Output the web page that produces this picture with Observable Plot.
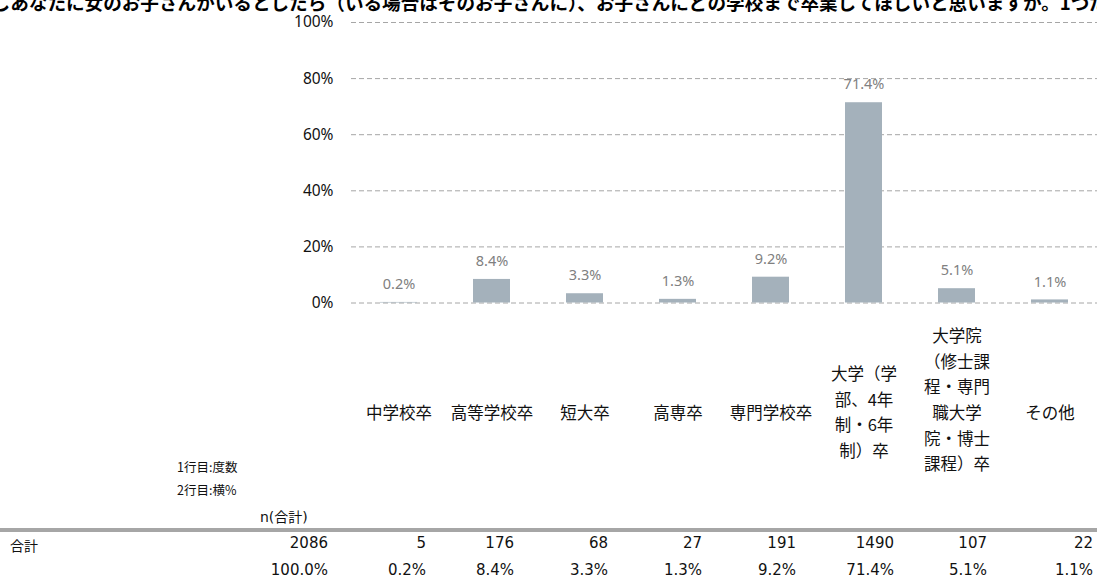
<!DOCTYPE html>
<html>
<head>
<meta charset="utf-8">
<script src="https://cdn.jsdelivr.net/npm/d3@7"></script>
<script src="https://cdn.jsdelivr.net/npm/@observablehq/plot@0.6"></script>
<style>
  html, body { margin: 0; padding: 0; background: #fff; }
  #wrap { position: relative; width: 1097px; height: 581px; overflow: hidden; font-family: "DejaVu Sans", "Noto Sans CJK JP", sans-serif; color: #111; }
  #title { position: absolute; left: -27px; top: -8px; white-space: nowrap; font-family: "Noto Sans CJK JP", sans-serif; font-weight: bold; font-size: 18.6px; line-height: 19px; color: #000; }
  #chart { position: absolute; left: 0; top: 0; }
  .abs { position: absolute; white-space: nowrap; }
  .note { font-family: "Noto Sans CJK JP", sans-serif; font-size: 12.5px; }
  .hdr { font-family: "DejaVu Sans", "Noto Sans CJK JP", sans-serif; font-size: 14px; }
  .cell { font-family: "DejaVu Sans", "Noto Sans CJK JP", sans-serif; font-size: 15px; text-align: right; }
  #rule { position: absolute; left: 0; width: 1097px; height: 4px; background: #a6a6a6; }
</style>
</head>
<body>
<div id="wrap">
  <div id="chart"></div>
  <div id="title"></div>
</div>
<script>
const titleText = "もしあなたに女のお子さんがいるとしたら（いる場合はそのお子さんに）、お子さんにどの学校まで卒業してほしいと思いますか。1つだけお選びください。";
const categories = ["中学校卒", "高等学校卒", "短大卒", "高専卒", "専門学校卒", "大学（学部、4年制・6年制）卒", "大学院（修士課程・専門職大学院・博士課程）卒", "その他"];
const tickLabels = ["中学校卒", "高等学校卒", "短大卒", "高専卒", "専門学校卒", "大学（学\n部、4年\n制・6年\n制）卒", "大学院\n（修士課\n程・専門\n職大学\n院・博士\n課程）卒", "その他"];
const counts = [5, 176, 68, 27, 191, 1490, 107, 22];
const shares = [0.002, 0.084, 0.033, 0.013, 0.092, 0.714, 0.051, 0.011];
const totalN = 2086;
const totalShare = 1.0;
const yTicks = [0, 0.2, 0.4, 0.6, 0.8, 1.0];
const notes = ["1行目:度数", "2行目:横%"];
const nHeader = "n(合計)";
const rowLabel = "合計";

const data = categories.map((c, i) => ({cat: c, share: shares[i], count: counts[i]}));
const labelOf = new Map(categories.map((c, i) => [c, tickLabels[i]]));
const pct1 = d3.format(".1%");
const longCat = categories[6];
const otherCats = categories.filter(c => c !== longCat);

const H = 500;
const chart = Plot.plot({
  width: 1097,
  height: H,
  marginLeft: 351,
  marginRight: 0,
  marginTop: 22,
  marginBottom: H - 302.5,
  style: {fontFamily: "'Noto Sans CJK JP', sans-serif", background: "transparent", color: "#111"},
  x: {domain: categories, paddingInner: 0.6, paddingOuter: 0.3, axis: null, label: null},
  y: {domain: [0, 1], axis: null, label: null},
  marks: [
    Plot.gridY(yTicks, {stroke: "#a6a6a6", strokeOpacity: 1, strokeDasharray: "5,3", strokeWidth: 1}),
    Plot.axisY(yTicks, {tickSize: 0, tickPadding: 18, tickFormat: d3.format(".0%"), fontSize: 15.5, fill: "#111", fontFamily: "'Noto Sans', sans-serif", label: null}),
    Plot.barY(data, {x: "cat", y: "share", fill: "#a4b1bb"}),
    Plot.text(data, {x: "cat", y: "share", text: d => pct1(d.share), dy: -18, fill: "#808080", fontSize: 14.5, fontFamily: "'Noto Sans', sans-serif"}),
    Plot.axisX(otherCats, {tickSize: 0, tickPadding: 107.5, lineAnchor: "middle", lineHeight: 1.55, fontSize: 16.5, fill: "#111", tickFormat: c => labelOf.get(c), label: null}),
    Plot.axisX([longCat], {tickSize: 0, tickPadding: 95, lineAnchor: "middle", lineHeight: 1.55, fontSize: 16.5, fill: "#111", tickFormat: c => labelOf.get(c), label: null})
  ]
});
document.getElementById("chart").appendChild(chart);
document.getElementById("title").textContent = titleText;

// table / notes (HTML below the chart area)
const wrap = document.getElementById("wrap");
function add(cls, text, style) {
  const el = document.createElement("div");
  el.className = "abs " + cls;
  el.textContent = text;
  Object.assign(el.style, style);
  wrap.appendChild(el);
  return el;
}
add("note", notes[0], {left: "177px", top: "457px"});
add("note", notes[1], {left: "177px", top: "480px"});
add("hdr", nHeader, {left: "260px", top: "506px"});
const rule = document.createElement("div");
rule.id = "rule"; rule.style.top = "528px"; wrap.appendChild(rule);
add("hdr", rowLabel, {left: "10px", top: "535px"});

const colRights = [328, 426, 514, 608, 702, 796, 894, 987, 1093];
const rowCounts = [totalN, ...counts];
const rowShares = [totalShare, ...shares];
rowCounts.forEach((v, i) => {
  add("cell", String(v), {right: (1097 - colRights[i]) + "px", top: "534px"});
  add("cell", pct1(rowShares[i]), {right: (1097 - colRights[i]) + "px", top: "561px"});
});
</script>
</body>
</html>
